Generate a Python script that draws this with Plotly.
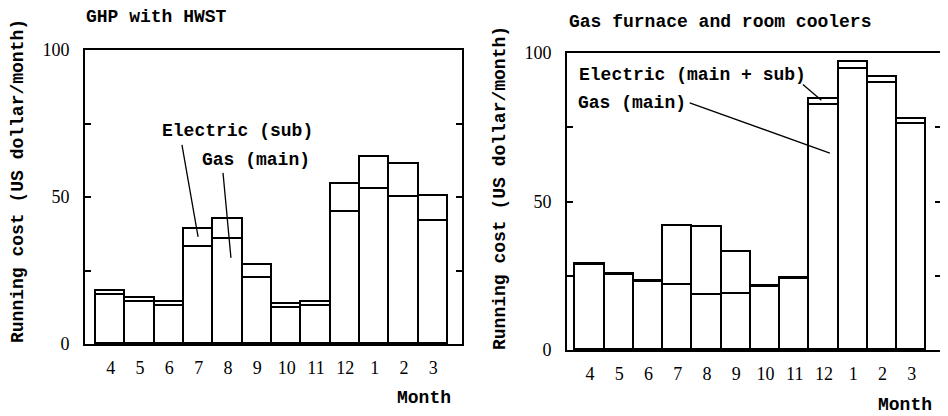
import plotly.graph_objects as go

W, H = 940, 408   # page body has an 8px margin; figure placed at (8, 8)
OFF = 8

months = ["4", "5", "6", "7", "8", "9", "10", "11", "12", "1", "2", "3"]

# GHP with HWST (US dollar/month)
ghp_gas = [16.7, 14.4, 12.9, 33.1, 35.7, 22.3, 12.1, 13.0, 44.8, 52.6, 49.9, 41.9]
ghp_elec = [1.4, 1.3, 1.5, 5.9, 6.7, 4.6, 1.4, 1.4, 9.6, 11.1, 11.3, 8.5]

# Gas furnace and room coolers (US dollar/month)
conv_gas = [28.6, 25.3, 23.0, 22.0, 18.4, 18.7, 21.2, 24.0, 82.6, 94.6, 90.0, 76.1]
conv_elec = [0.4, 0.3, 0.1, 19.8, 23.1, 14.3, 0.5, 0.2, 1.8, 2.5, 2.0, 1.6]

y_tickvals = [0, 25, 50, 75, 100]
y_ticktext = ["0", "", "50", "", "100"]

MONO = "Liberation Mono"
SERIF = "Liberation Serif"
xs = list(range(len(months)))


def px_x(p):
    return (p - OFF) / W


def px_y(p):
    return 1 - (p - OFF) / H


fig = go.Figure()

bar_style = dict(marker=dict(color="white", line=dict(color="black", width=1.8)),
                 width=1.0, showlegend=False, hoverinfo="skip")

fig.add_trace(go.Bar(x=xs, y=ghp_gas, xaxis="x", yaxis="y", **bar_style))
fig.add_trace(go.Bar(x=xs, y=ghp_elec, xaxis="x", yaxis="y", **bar_style))
fig.add_trace(go.Bar(x=xs, y=conv_gas, xaxis="x2", yaxis="y2", **bar_style))
fig.add_trace(go.Bar(x=xs, y=conv_elec, xaxis="x2", yaxis="y2", **bar_style))

xax = dict(tickvals=xs, ticktext=months, ticks="", showline=True, linecolor="black",
           linewidth=2, mirror=True, showgrid=False, zeroline=False,
           tickfont=dict(family=SERIF, size=18, color="black"), ticklabelstandoff=6)
yax = dict(range=[0, 100], tickvals=y_tickvals, ticktext=y_ticktext, ticks="inside",
           ticklen=6, tickwidth=1.5, tickcolor="black", showline=True, linecolor="black",
           linewidth=2, mirror="ticks", showgrid=False, zeroline=False,
           tickfont=dict(family=SERIF, size=18, color="black"), ticklabelstandoff=10)

fig.update_layout(
    width=W, height=H,
    margin=dict(l=0, r=0, t=0, b=0, autoexpand=False),
    paper_bgcolor="white", plot_bgcolor="white",
    barmode="stack", bargap=0,
    showlegend=False,
    xaxis=dict(domain=[px_x(85), px_x(462)], range=[-0.875, 11.977], anchor="y", **xax),
    yaxis=dict(domain=[px_y(344), px_y(50)], anchor="x", **yax),
    xaxis2=dict(domain=[px_x(567), px_x(941)], range=[-0.784, 12.0], anchor="y2", **xax),
    yaxis2=dict(domain=[px_y(350), px_y(53)], anchor="x2", **yax),
)

txt = dict(family=MONO, size=18, color="black", weight="bold")

annotations = [
    dict(text="GHP with HWST", x=px_x(84), y=px_y(17), xanchor="left", yanchor="middle"),
    dict(text="Gas furnace and room coolers", x=px_x(567), y=px_y(22), xanchor="left", yanchor="middle"),
    dict(text="Running cost (US dollar/month)", x=px_x(18), y=px_y(181), textangle=-90,
         xanchor="center", yanchor="middle"),
    dict(text="Running cost (US dollar/month)", x=px_x(500), y=px_y(188), textangle=-90,
         xanchor="center", yanchor="middle"),
    dict(text="Month", x=px_x(424), y=px_y(398), xanchor="center", yanchor="middle"),
    dict(text="Month", x=px_x(905), y=px_y(405), xanchor="center", yanchor="middle"),
]
for a in annotations:
    fig.add_annotation(xref="paper", yref="paper", showarrow=False, font=txt, **a)

# in-plot labels (data coordinates)
fig.add_annotation(text="Electric (sub)", x=1.68, y=72.4, xref="x", yref="y",
                   xanchor="left", yanchor="middle", showarrow=False, font=txt)
fig.add_annotation(text="Gas (main)", x=3.05, y=62.6, xref="x", yref="y",
                   xanchor="left", yanchor="middle", showarrow=False, font=txt)
fig.add_annotation(text="Electric (main + sub)", x=-0.43, y=92.7, xref="x2", yref="y2",
                   xanchor="left", yanchor="middle", showarrow=False, font=txt)
fig.add_annotation(text="Gas (main)", x=-0.48, y=83.1, xref="x2", yref="y2",
                   xanchor="left", yanchor="middle", showarrow=False, font=txt)

leader = dict(type="line", line=dict(color="black", width=1.3))
fig.add_shape(x0=2.43, y0=67.7, x1=2.98, y1=36.4, xref="x", yref="y", **leader)
fig.add_shape(x0=3.83, y0=58.2, x1=4.10, y1=29.3, xref="x", yref="y", **leader)
fig.add_shape(x0=7.28, y0=89.4, x1=7.91, y1=84.1, xref="x2", yref="y2", **leader)
fig.add_shape(x0=3.41, y0=83.2, x1=8.20, y1=66.3, xref="x2", yref="y2", **leader)

fig.write_html("out.html")
